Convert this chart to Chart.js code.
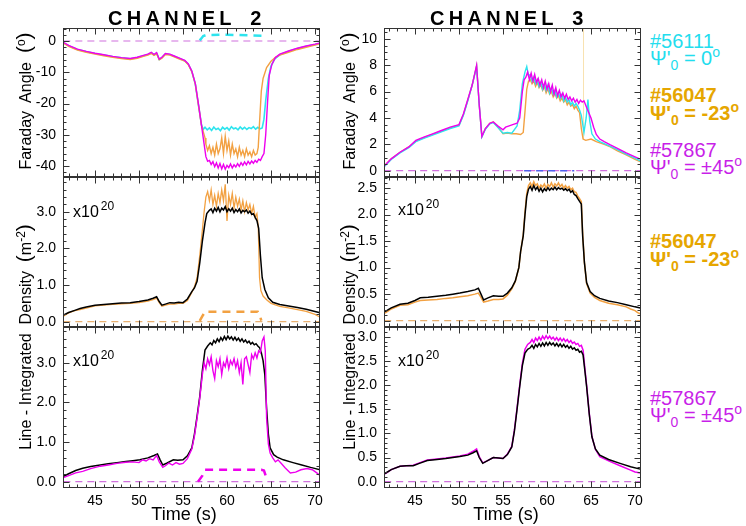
<!DOCTYPE html>
<html>
<head>
<meta charset="utf-8">
<script src="https://cdn.jsdelivr.net/npm/chart.js@4.4.1/dist/chart.umd.min.js"></script>
<style>
  body { margin: 0; background: #fff; width: 746px; height: 526px; position: relative; overflow: hidden;
         font-family: "Liberation Sans", Arial, sans-serif; }
  canvas { position: absolute; }
  .txt { position: absolute; white-space: pre; color: #000; }
  .head { font-size: 20px; line-height: 20px; font-weight: bold; letter-spacing: 4.3px; word-spacing: 5px; }
  .vert { position: absolute; white-space: pre; text-align: center; width: 260px; height: 20px;
          font-size: 16px; line-height: 20px; transform: rotate(-90deg); }
  .par { font-size: 21px; }
  .vsup { position: relative; top: -6px; font-size: 12px; }
  .lg { position: absolute; left: 650px; white-space: pre; font-size: 20px; line-height: 20px; }
  .sb { position: relative; top: 5px; font-size: 14px; }
  .sp { position: relative; top: -8px; font-size: 14px; }
  .x20 { font-size: 16px; line-height: 16px; }
  .x20 span { position: relative; top: -7px; font-size: 12px; margin-left: 2px; }
  .time { font-size: 18px; line-height: 18px; width: 120px; text-align: center; }
</style>
</head>
<body>
<canvas id="pA" width="316" height="157"></canvas>
<canvas id="pB" width="316" height="157"></canvas>
<canvas id="pC" width="316" height="158"></canvas>
<canvas id="pD" width="316" height="158"></canvas>
<canvas id="pE" width="316" height="193"></canvas>
<canvas id="pF" width="316" height="193"></canvas>

<div class="txt head" style="left:108px;top:8px">CHANNEL 2</div>
<div class="txt head" style="left:430px;top:8px">CHANNEL 3</div>

<div class="vert" style="left:-106px;top:91px">Faraday  Angle  <span class="par">(</span><span class="vsup">o</span><span class="par">)</span></div>
<div class="vert" style="left:218px;top:91px">Faraday  Angle  <span class="par">(</span><span class="vsup">o</span><span class="par">)</span></div>
<div class="vert" style="left:-106px;top:327px">Line - Integrated  Density  <span class="par">(</span>m<span class="vsup">-2</span><span class="par">)</span></div>
<div class="vert" style="left:218px;top:327px">Line - Integrated  Density  <span class="par">(</span>m<span class="vsup">-2</span><span class="par">)</span></div>

<div class="txt x20" style="left:73px;top:204px">x10<span>20</span></div>
<div class="txt x20" style="left:398px;top:202px">x10<span>20</span></div>
<div class="txt x20" style="left:73px;top:353px">x10<span>20</span></div>
<div class="txt x20" style="left:398px;top:353px">x10<span>20</span></div>

<div class="txt time" style="left:124px;top:505px">Time (s)</div>
<div class="txt time" style="left:446px;top:505px">Time (s)</div>

<div class="lg" style="top:31px;color:#22DDEE">#56111</div>
<div class="lg" style="top:48px;color:#22DDEE">Ψ'<span class="sb">0</span> = 0<span class="sp">o</span></div>
<div class="lg" style="top:85px;color:#E6A600;font-weight:bold">#56047</div>
<div class="lg" style="top:103px;color:#E6A600;font-weight:bold">Ψ'<span class="sb">0</span> = -23<span class="sp">o</span></div>
<div class="lg" style="top:140px;color:#C81FE8">#57867</div>
<div class="lg" style="top:157px;color:#C81FE8">Ψ'<span class="sb">0</span> = ±45<span class="sp">o</span></div>
<div class="lg" style="top:231px;color:#E6A600;font-weight:bold">#56047</div>
<div class="lg" style="top:249px;color:#E6A600;font-weight:bold">Ψ'<span class="sb">0</span> = -23<span class="sp">o</span></div>
<div class="lg" style="top:388px;color:#C81FE8">#57867</div>
<div class="lg" style="top:405px;color:#C81FE8">Ψ'<span class="sb">0</span> = ±45<span class="sp">o</span></div>

<script>
// ---------- tick labels ----------
const timeTicks = [45, 50, 55, 60, 65, 70];
const ch2FarTicks = [0, -10, -20, -30, -40];
const ch3FarTicks = [0, 2, 4, 6, 8, 10];
const ch2DensTicks = [0, 1, 2, 3];
const ch3DensTicks = [0, 0.5, 1, 1.5, 2, 2.5];
const ch2IntTicks = [0, 1, 2, 3];
const ch3IntTicks = [0, 0.5, 1, 1.5, 2, 2.5, 3];

// ---------- channel 2, Faraday angle (deg) ----------
const ch2FarCyanT = [41.4,42,43,44,45,46,47,48,49,49.8,50.5,51.0,51.4,51.7,52.0,52.3,52.6,53.0,53.5,54.0,54.6,55.2,55.6,56.0,56.4,56.8,57.1,57.3,
  57.5,57.75,58.0,58.25,58.5,58.75,59.0,59.25,59.5,59.75,60.0,60.25,60.5,60.75,61.0,61.25,61.5,61.75,62.0,62.25,62.5,62.75,63.0,63.25,63.5,63.75,64.0,
  64.2,64.4,64.7,65.0,65.4,66.0,67,68,69,70,70.6];
const ch2FarCyan = [-0.5,-1.5,-2.7,-3.4,-4.0,-4.5,-5.0,-5.4,-5.7,-5.3,-4.7,-4.3,-3.8,-4.4,-3.9,-5.9,-5.3,-4.1,-4.3,-4.9,-5.6,-6.3,-7.4,-9.7,-13.8,-21.3,-26.8,-28.3,
  -27.6,-28.4,-27.8,-28.6,-27.5,-28.3,-27.9,-28.7,-27.6,-28.2,-27.7,-28.5,-27.4,-28.1,-27.8,-28.4,-27.5,-28.2,-27.6,-28.3,-27.7,-28.0,-27.4,-28.2,-27.6,-28.1,-27.8,
  -25,-19,-12,-8,-5.8,-4.4,-3.3,-2.4,-1.7,-1.1,-0.7];
const ch2FarOrangeT = [41.4,42,43,44,45,46,47,48,49,49.8,50.5,51.0,51.4,51.7,52.0,52.3,52.6,53.0,53.5,54.0,54.6,55.2,55.6,56.0,56.4,56.8,57.1,57.3,57.5,57.6,
  57.8,58.0,58.2,58.4,58.6,58.8,59.0,59.2,59.4,59.6,59.8,60.0,60.2,60.4,60.6,60.8,61.0,61.2,61.4,61.6,61.8,62.0,62.2,62.4,62.6,62.8,63.0,63.2,63.4,
  63.55,63.7,63.9,64.1,64.5,65,65.5,66,67,68,69,70,70.6];
const ch2FarOrange = [-0.7,-1.7,-2.9,-3.6,-4.2,-4.7,-5.2,-5.6,-5.9,-5.5,-4.9,-4.5,-4.0,-4.6,-4.1,-6.0,-5.5,-4.3,-4.5,-5.1,-5.8,-6.4,-7.6,-9.8,-13.8,-21.4,-27.0,-29,-31,-33,
  -35,-33.5,-36,-34,-36.5,-33,-36,-34.5,-31,-36,-30.5,-35,-32,-36.5,-33,-36,-34.5,-37,-34,-36.5,-35,-37,-34.5,-36.5,-35.5,-37,-35,-36.5,-36,
  -34,-26,-16,-12,-8.5,-6.5,-5.2,-4.5,-3.6,-2.7,-2.0,-1.3,-0.9];
const ch2FarMagT = [41.4,42,43,44,45,46,47,48,49,49.8,50.5,51.0,51.4,51.7,52.0,52.3,52.6,53.0,53.5,54.0,54.6,55.2,55.6,56.0,56.4,56.8,57.1,57.4,57.6,57.8,
  58.0,58.2,58.4,58.6,58.8,59.0,59.2,59.4,59.6,59.8,60.0,60.2,60.4,60.6,60.8,61.0,61.2,61.4,61.6,61.8,62.0,62.2,62.4,62.6,62.8,63.0,63.2,63.4,63.6,63.8,
  64.0,64.2,64.4,64.6,64.8,65.1,65.5,66.0,67,68,69,70,70.6];
const ch2FarMag = [-0.4,-1.4,-2.6,-3.3,-3.9,-4.4,-4.9,-5.3,-5.6,-5.2,-4.6,-4.2,-3.6,-4.3,-3.7,-5.8,-5.2,-4.0,-4.2,-4.8,-5.5,-6.2,-7.3,-9.6,-13.6,-21.0,-27.0,-33,-37,-38.5,
  -38.2,-39.5,-38.6,-40.2,-39.0,-40.6,-39.2,-40.9,-39.5,-41.0,-39.8,-40.5,-39.3,-40.6,-39.6,-40.3,-39.2,-40.1,-38.9,-39.8,-38.7,-39.6,-38.5,-39.3,-38.4,-39.1,-38.2,-38.8,-37.8,-38.2,
  -37,-36,-30,-20,-11,-7.5,-5.3,-4.2,-3.2,-2.3,-1.6,-1.0,-0.6];
const ch2FarCyanRefT = [56.9,57.1,57.3,57.6,60.0,64.0,64.3];
const ch2FarCyanRef = [0.2,0.9,1.6,1.9,2.0,1.7,1.4];
const ch2FarZeroT = [41.4,70.6];
const ch2FarZero = [0,0];

// ---------- channel 3, Faraday angle (deg) ----------
const ch3FarMagT = [41.5,42.3,43.3,44.3,45.1,46.0,47,48,49,50.0,50.5,51.0,51.5,52.0,52.3,52.6,53.0,53.5,53.9,54.4,55.0,55.3,55.7,56.1,56.6,56.9,57.2,57.4,
  57.6,57.8,58.0,58.2,58.4,58.6,58.8,59.0,59.2,59.4,59.6,59.8,60.0,60.2,60.4,60.6,60.8,61.0,61.2,61.4,61.6,61.8,62.0,62.2,62.4,62.6,62.8,63.0,63.2,63.4,63.6,63.8,64.0,
  64.2,64.5,65.0,65.3,65.6,66.0,66.5,67.2,68,69,70,70.7];
const ch3FarMag = [0.35,0.9,1.4,1.8,2.3,2.55,2.8,3.05,3.3,3.5,4.3,5.4,6.5,8.0,5.0,2.6,3.2,3.6,3.7,3.4,3.1,3.3,3.4,3.5,3.6,4.0,6.0,6.9,
  7.1,7.5,6.9,7.4,6.8,7.3,6.7,7.0,6.5,6.9,6.3,6.8,6.2,6.6,6.0,6.5,5.8,6.3,5.7,6.1,5.6,5.9,5.5,5.8,5.4,5.6,5.3,5.5,5.2,5.4,5.1,5.35,5.2,
  5.3,4.8,4.0,3.3,2.75,2.4,2.2,1.95,1.7,1.35,1.05,0.85];
const ch3FarCyanT = [41.5,42.3,43.3,44.3,45.1,46.0,47,48,49,50.0,50.5,51.0,51.5,52.0,52.3,52.6,53.0,53.5,53.9,54.4,55.0,55.5,56.0,56.6,56.9,57.2,57.5,57.7,57.9,
  58.1,58.3,58.5,58.7,58.9,59.1,59.3,59.5,59.7,59.9,60.1,60.3,60.5,60.7,60.9,61.1,61.3,61.5,61.7,61.9,62.1,62.3,62.5,62.7,62.9,63.1,63.3,63.5,
  63.7,63.9,64.2,64.45,64.65,64.85,65.1,65.5,66.0,66.5,67.2,68,69,70,70.7];
const ch3FarCyan = [0.3,0.85,1.35,1.75,2.2,2.45,2.7,2.95,3.2,3.4,4.2,5.3,6.5,7.9,5.0,2.55,3.15,3.55,3.65,3.3,2.85,2.9,2.85,3.4,4.6,6.6,7.5,7.9,7.2,
  7.3,6.8,7.1,6.6,6.9,6.4,6.7,6.2,6.6,6.1,6.5,5.9,6.3,5.8,6.1,5.6,5.9,5.5,5.8,5.3,5.6,5.2,5.4,5.0,5.2,4.9,5.1,4.9,
  4.6,4.2,2.9,4.0,5.4,3.8,2.8,2.4,2.2,2.05,1.85,1.6,1.25,0.95,0.7];
const ch3FarOrangeT = [41.5,42.3,43.3,44.3,45.1,46.0,47,48,49,50.0,50.5,51.0,51.5,52.0,52.3,52.6,53.0,53.5,53.9,54.4,55.0,55.5,56.0,56.5,57.0,57.3,57.5,57.7,57.9,
  58.1,58.3,58.5,58.7,58.9,59.1,59.3,59.5,59.7,59.9,60.1,60.3,60.5,60.7,60.9,61.1,61.3,61.5,61.7,61.9,62.1,62.3,62.5,62.7,62.9,63.1,63.3,63.5,
  63.7,63.9,64.1,64.4,65.0,65.6,66.5,67.2,68,69,70,70.7];
const ch3FarOrange = [0.35,0.9,1.4,1.8,2.25,2.5,2.75,3.0,3.25,3.45,4.25,5.35,6.5,7.95,5.0,2.6,3.2,3.6,3.7,3.35,2.8,2.85,2.8,2.8,2.75,2.9,4.5,6.2,6.8,
  6.9,6.6,6.8,6.4,6.7,6.3,6.5,6.1,6.4,5.9,6.2,5.8,6.0,5.6,5.9,5.5,5.7,5.3,5.5,5.2,5.4,5.0,5.2,4.9,5.0,4.7,4.9,4.6,
  4.4,3.2,2.4,2.3,2.4,2.2,2.0,1.8,1.5,1.2,0.85,0.65];
const ch3FarGlitchT = [64.15,64.15];
const ch3FarGlitch = [2.4,11];
const ch3FarBlueRefT = [57.4,63.1];
const ch3FarBlueRef = [0,0];
const ch3FarZeroT = [41.5,70.7];
const ch3FarZero = [0,0];

// ---------- channel 2, density (1e20 m^-2) ----------
const ch2DensBlackT = [41.4,42.0,42.7,43.3,44.0,45.0,46.0,47,48,49,50,51,51.6,52.0,52.3,52.6,53.0,53.5,54.0,54.5,55.0,55.5,56.0,56.3,56.6,56.9,57.2,57.5,57.7,58.0,
  58.2,58.4,58.6,58.8,59.0,59.2,59.4,59.6,59.8,60.0,60.2,60.4,60.6,60.8,61.0,61.2,61.4,61.6,61.8,62.0,62.2,62.4,62.6,62.8,63.0,63.2,63.4,
  63.6,63.8,64.0,64.3,64.7,65.2,66,67,68,69,70,70.6];
const ch2DensBlack = [0.18,0.25,0.31,0.36,0.40,0.45,0.47,0.49,0.51,0.52,0.55,0.59,0.64,0.68,0.55,0.45,0.48,0.52,0.51,0.53,0.52,0.62,0.82,0.92,1.1,1.6,2.2,2.7,2.95,3.04,
  3.08,2.98,3.1,3.02,3.12,3.0,3.1,3.05,3.14,3.0,3.08,3.02,3.1,2.98,3.06,3.0,3.08,2.97,3.04,3.0,3.05,2.96,3.02,2.93,2.95,2.85,2.76,
  2.55,1.8,1.2,0.88,0.65,0.53,0.47,0.43,0.39,0.34,0.28,0.24];
const ch2DensOrangeT = [41.4,42.0,42.7,43.3,44.0,45.0,46.0,47,48,49,50,51,51.6,52.0,52.3,52.6,53.0,53.5,54.0,54.5,55.0,55.5,56.0,56.3,56.6,56.9,57.2,
  57.4,57.6,57.8,58.0,58.2,58.4,58.6,58.8,59.0,59.2,59.4,59.6,59.8,60.0,60.2,60.4,60.6,60.8,61.0,61.2,61.4,61.6,61.8,62.0,62.2,62.4,62.6,62.8,63.0,63.2,63.4,
  63.55,63.7,63.85,64.1,64.5,65,66,67,68,69,70,70.6];
const ch2DensOrange = [0.15,0.24,0.3,0.33,0.37,0.43,0.45,0.47,0.49,0.5,0.52,0.56,0.6,0.64,0.52,0.42,0.45,0.48,0.48,0.5,0.5,0.58,0.8,0.95,1.2,1.8,2.5,
  3.0,3.4,3.55,3.3,3.6,3.2,3.45,3.15,3.5,3.25,3.6,3.3,3.75,2.75,3.45,3.2,3.5,3.1,3.4,3.15,3.35,3.05,3.3,3.0,3.25,3.05,3.2,2.95,3.15,2.85,2.95,
  2.6,1.2,0.85,0.7,0.6,0.5,0.42,0.38,0.33,0.28,0.2,0.12];
const ch2DensRefT = [56.9,57.2,57.5,63.5,63.7,63.9];
const ch2DensRef = [0.02,0.15,0.27,0.27,0.2,0.03];
const ch2DensZeroT = [41.4,70.6];
const ch2DensZero = [0,0];

// ---------- channel 3, density (1e20 m^-2) ----------
const ch3DensT = [41.6,42.3,43.3,44.2,45.0,45.6,46.5,47.5,48.5,49.3,50.1,51.0,51.8,52.2,52.5,52.8,53.3,53.9,54.5,55.0,55.5,56.0,56.4,56.8,57.0,57.3,57.5,57.7,57.9,
  58.1,58.3,58.5,58.7,58.9,59.1,59.3,59.5,59.7,59.9,60.1,60.3,60.5,60.7,60.9,61.1,61.3,61.5,61.7,61.9,62.1,62.3,62.5,62.7,62.9,63.1,63.3,63.5,63.7,
  63.9,64.05,64.25,64.5,64.9,65.4,66,67,68,69,70,70.6];
const ch3DensBlack = [0.17,0.24,0.31,0.33,0.38,0.43,0.44,0.46,0.48,0.50,0.52,0.55,0.58,0.61,0.50,0.39,0.43,0.47,0.46,0.46,0.52,0.62,0.75,1.0,1.3,1.6,2.0,2.34,2.48,
  2.53,2.46,2.55,2.47,2.52,2.44,2.5,2.43,2.49,2.45,2.51,2.46,2.5,2.47,2.52,2.47,2.51,2.48,2.5,2.46,2.49,2.45,2.48,2.42,2.45,2.38,2.36,2.3,2.25,
  2.2,1.6,1.1,0.72,0.55,0.47,0.42,0.37,0.34,0.3,0.26,0.24];
const ch3DensOrangeT = [41.6,42.3,43.3,44.2,45.0,45.6,46.5,47.5,48.5,49.3,50.1,51.0,51.8,52.2,52.5,52.8,53.3,53.9,54.5,55.0,55.5,56.0,56.4,56.8,57.0,57.3,57.5,57.7,57.9,
  58.1,58.3,58.5,58.7,58.9,59.1,59.3,59.5,59.7,59.9,60.1,60.3,60.5,60.7,60.9,61.1,61.3,61.5,61.7,61.9,62.1,62.3,62.5,62.7,62.9,63.1,63.3,63.5,63.7,
  63.9,64.05,64.25,64.5,64.9,65.4,66,67,68,69,69.5,70,70.3,70.6];
const ch3DensOrange = [0.14,0.22,0.29,0.30,0.35,0.38,0.39,0.40,0.42,0.43,0.45,0.47,0.50,0.52,0.44,0.35,0.37,0.40,0.40,0.41,0.48,0.6,0.74,1.0,1.3,1.62,2.05,2.4,2.55,
  2.6,2.53,2.62,2.55,2.58,2.5,2.56,2.52,2.58,2.5,2.57,2.53,2.6,2.52,2.58,2.54,2.6,2.53,2.57,2.5,2.55,2.5,2.53,2.47,2.5,2.43,2.42,2.35,2.3,
  2.25,1.65,1.1,0.7,0.52,0.44,0.38,0.33,0.3,0.26,0.22,0.19,0.15,0.13];
const ch3DensZeroT = [41.5,70.7];
const ch3DensZero = [0,0];

// ---------- channel 2, line-integrated density (1e20 m^-2) ----------
const ch2IntBlackT = [41.4,42.0,42.8,43.6,44.5,45.6,46.5,47.5,48.5,49.3,50.1,51.0,51.7,52.1,52.4,52.7,53.2,53.9,54.4,55.0,55.5,56.0,56.3,56.6,56.9,57.2,57.5,57.8,58.1,
  58.3,58.5,58.7,58.9,59.1,59.3,59.5,59.7,59.9,60.1,60.3,60.5,60.7,60.9,61.1,61.3,61.5,61.7,61.9,62.1,62.3,62.5,62.7,62.9,63.1,63.3,63.5,63.7,
  63.9,64.1,64.3,64.5,64.7,64.9,65.3,65.7,66.4,67.5,68.5,69.5,70.6];
const ch2IntBlack = [0.13,0.2,0.28,0.34,0.38,0.42,0.45,0.48,0.51,0.53,0.55,0.6,0.66,0.7,0.55,0.42,0.47,0.55,0.54,0.55,0.65,0.85,1.2,1.65,2.14,2.8,3.32,3.42,3.5,
  3.45,3.56,3.5,3.6,3.53,3.63,3.56,3.66,3.58,3.67,3.6,3.65,3.57,3.64,3.56,3.62,3.54,3.6,3.52,3.57,3.5,3.54,3.47,3.51,3.45,3.48,3.42,3.38,
  3.25,3.05,2.7,1.85,1.2,0.85,0.68,0.62,0.55,0.48,0.42,0.36,0.3];
const ch2IntMagT = [41.4,42.0,42.8,43.6,44.5,45.6,46.5,47.5,48.5,49.3,50.0,50.4,50.8,51.2,51.6,52.0,52.3,52.7,53.0,53.4,53.8,54.2,54.6,55.0,55.5,56.0,56.3,56.6,56.9,57.2,57.4,
  57.6,57.8,58.0,58.2,58.4,58.6,58.8,59.0,59.2,59.4,59.6,59.8,60.0,60.2,60.4,60.6,60.8,61.0,61.2,61.4,61.6,61.8,62.0,62.2,62.4,62.6,62.8,63.0,63.2,63.4,63.6,63.8,64.0,
  64.2,64.35,64.5,64.7,64.9,65.2,65.5,65.8,66.2,66.6,67.2,67.8,68.4,69.1,69.7,70.2,70.6];
const ch2IntMag = [0.1,0.15,0.22,0.26,0.33,0.39,0.42,0.46,0.49,0.5,0.48,0.55,0.52,0.58,0.55,0.66,0.5,0.36,0.4,0.47,0.42,0.48,0.44,0.46,0.58,0.82,1.15,1.6,2.1,2.7,3.0,
  2.85,3.1,2.95,3.15,2.8,2.6,3.05,2.9,3.1,2.7,3.0,2.9,3.12,2.85,3.05,2.95,3.1,2.88,3.05,2.75,3.0,2.45,3.1,3.15,2.95,2.75,3.2,3.1,3.25,3.12,3.3,3.25,3.55,
  3.65,3.3,1.6,0.95,0.72,0.6,0.5,0.55,0.45,0.35,0.22,0.24,0.3,0.33,0.3,0.22,0.15];
const ch2IntRefT = [56.7,57.2,57.5,63.9,64.2,64.6];
const ch2IntRef = [0.0,0.15,0.3,0.3,0.28,0.02];
const ch2IntZeroT = [41.4,70.6];
const ch2IntZero = [0,0];

// ---------- channel 3, line-integrated density (1e20 m^-2) ----------
const ch3IntBlackT = [41.6,42.3,43.3,44.0,44.8,45.5,46.4,47.5,48.5,49.3,50.1,51.0,51.6,52.0,52.3,52.7,53.2,53.9,54.5,55.0,55.5,56.0,56.3,56.6,56.9,57.2,57.5,57.8,58.1,
  58.3,58.5,58.7,58.9,59.1,59.3,59.5,59.7,59.9,60.1,60.3,60.5,60.7,60.9,61.1,61.3,61.5,61.7,61.9,62.1,62.3,62.5,62.7,62.9,63.1,63.3,63.5,63.7,63.9,
  64.1,64.3,64.5,64.8,65.1,65.5,66.0,67,68.3,69.5,70.6];
const ch3IntBlack = [0.17,0.25,0.32,0.33,0.33,0.38,0.44,0.46,0.48,0.5,0.52,0.55,0.6,0.64,0.5,0.38,0.43,0.5,0.49,0.48,0.56,0.72,1.05,1.5,1.97,2.4,2.66,2.74,2.77,
  2.82,2.76,2.84,2.79,2.86,2.8,2.87,2.81,2.88,2.82,2.88,2.83,2.87,2.81,2.86,2.8,2.85,2.79,2.84,2.78,2.82,2.76,2.8,2.74,2.77,2.72,2.74,2.68,2.7,
  2.62,2.3,1.97,1.4,0.93,0.68,0.55,0.46,0.38,0.31,0.26];
const ch3IntMagT = [41.6,42.3,43.3,44.0,44.8,45.5,46.4,47.5,48.5,49.3,50.1,51.0,51.6,52.0,52.3,52.7,53.2,53.9,54.5,55.0,55.5,56.0,56.3,56.6,56.9,57.2,57.5,57.8,58.1,
  58.3,58.5,58.7,58.9,59.1,59.3,59.5,59.7,59.9,60.1,60.3,60.5,60.7,60.9,61.1,61.3,61.5,61.7,61.9,62.1,62.3,62.5,62.7,62.9,63.1,63.3,63.5,63.7,63.9,
  64.1,64.3,64.5,64.8,65.1,65.5,66.0,67,68.3,69.5,70.0,70.6];
const ch3IntMag = [0.16,0.25,0.32,0.33,0.34,0.39,0.45,0.47,0.49,0.51,0.53,0.57,0.63,0.68,0.52,0.39,0.43,0.5,0.49,0.48,0.57,0.73,1.07,1.53,2.0,2.45,2.74,2.84,2.88,
  2.94,2.88,2.97,2.92,2.99,2.93,3.01,2.95,3.02,2.96,3.01,2.95,2.99,2.93,2.98,2.92,2.97,2.91,2.96,2.9,2.94,2.88,2.92,2.86,2.89,2.84,2.86,2.8,2.82,
  2.72,2.35,2.0,1.42,0.94,0.67,0.52,0.43,0.33,0.24,0.2,0.18];
const ch3IntZeroT = [41.5,70.7];
const ch3IntZero = [0,0];

// ---------- colours ----------
const CYAN = '#2EE4EE', ORANGE = '#F2A142', MAGENTA = '#EE00EE', BLACK = '#000000';
const ZERO_MAG = '#D070DD', ZERO_OR = '#E8B070', BLUE = '#5060EE';

Chart.defaults.font.family = '"Liberation Sans", Arial, sans-serif';
Chart.defaults.font.size = 14;
Chart.defaults.color = '#000';

const PAD = 4, YW = 55, XH = 28;

// frame round the plot area plus inward major/minor ticks on all four sides
const frameTicks = {
  id: 'frameTicks',
  afterDatasetsDraw(chart, args, o) {
    const { ctx, chartArea: a, scales } = chart;
    const xs = scales.x, ys = scales.y;
    const L = Math.round(a.left) + 0.5, R = Math.round(a.right) - 0.5;
    const T = Math.round(a.top) + 0.5, B = Math.round(a.bottom) - 0.5;
    const steps = (min, max, step) => {
      const out = [];
      for (let k = Math.ceil(min / step - 1e-6); k * step <= max + 1e-9; k++) out.push(k * step);
      return out;
    };
    const xMark = (v, len) => {
      const p = Math.round(xs.getPixelForValue(v)) + 0.5;
      ctx.moveTo(p, B); ctx.lineTo(p, B - len);
      ctx.moveTo(p, T); ctx.lineTo(p, T + len);
    };
    const yMark = (v, len) => {
      const p = Math.round(ys.getPixelForValue(v)) + 0.5;
      ctx.moveTo(L, p); ctx.lineTo(L + len, p);
      ctx.moveTo(R, p); ctx.lineTo(R - len, p);
    };
    ctx.save();
    ctx.strokeStyle = '#333';
    ctx.lineWidth = 1;
    ctx.beginPath();
    steps(xs.min, xs.max, 1).forEach(v => xMark(v, 3));
    timeTicks.forEach(v => xMark(v, 6));
    steps(ys.min, ys.max, o.yMinor).forEach(v => yMark(v, 3));
    o.yMajor.forEach(v => yMark(v, 6));
    ctx.stroke();
    ctx.strokeRect(L, T, R - L, B - T);
    ctx.restore();
  }
};

function line(t, v, color, width, dash) {
  return {
    data: t.map((x, i) => ({ x: x, y: v[i] })),
    borderColor: color,
    borderWidth: width || 1.3,
    borderDash: dash || [],
    pointRadius: 0,
    tension: 0,
    fill: false
  };
}

function panel(id, box, cfg) {
  const cv = document.getElementById(id);
  cv.style.left = (box.x - YW) + 'px';
  cv.style.top = (box.y - PAD) + 'px';
  new Chart(cv, {
    type: 'line',
    data: { datasets: cfg.datasets },
    options: {
      responsive: false,
      animation: false,
      events: [],
      layout: { padding: { top: PAD, right: PAD, bottom: cfg.showX ? 0 : PAD, left: 0 } },
      scales: {
        x: {
          type: 'linear', min: cfg.xMin, max: cfg.xMax, display: !!cfg.showX,
          grid: { display: false, drawTicks: false }, border: { display: false },
          ticks: { padding: 5, autoSkip: false, maxRotation: 0, callback: v => String(v) },
          afterBuildTicks: sc => { sc.ticks = timeTicks.map(v => ({ value: v })); },
          afterFit: sc => {
            sc.height = cfg.showX ? XH : 0;
            sc.paddingLeft = 0; sc.paddingRight = 0;
          }
        },
        y: {
          type: 'linear', min: cfg.yMin, max: cfg.yMax,
          grid: { display: false, drawTicks: false }, border: { display: false },
          ticks: { padding: 7, autoSkip: false, callback: v => v.toFixed(cfg.dec) },
          afterBuildTicks: sc => { sc.ticks = cfg.yTicks.map(v => ({ value: v })); },
          afterFit: sc => { sc.width = YW; sc.paddingTop = 0; sc.paddingBottom = 0; }
        }
      },
      plugins: {
        legend: { display: false },
        tooltip: { enabled: false },
        frameTicks: { yMajor: cfg.yTicks, yMinor: cfg.yMinor }
      }
    },
    plugins: [frameTicks]
  });
}

const DASH = [7, 5], THICK = [8, 6];

panel('pA', { x: 63, y: 28 }, {
  xMin: 41.36, xMax: 70.57, yMin: -43.5, yMax: 4.16, yTicks: ch2FarTicks, yMinor: 2, dec: 0,
  datasets: [
    line(ch2FarMagT, ch2FarMag, MAGENTA, 1.4),
    line(ch2FarOrangeT, ch2FarOrange, ORANGE, 1.4),
    line(ch2FarCyanT, ch2FarCyan, CYAN, 1.6),
    line(ch2FarCyanRefT, ch2FarCyanRef, CYAN, 2.5, THICK),
    line(ch2FarZeroT, ch2FarZero, ZERO_MAG, 1.2, DASH)
  ]
});

panel('pB', { x: 384, y: 28 }, {
  xMin: 41.48, xMax: 70.68, yMin: -0.48, yMax: 10.83, yTicks: ch3FarTicks, yMinor: 0.5, dec: 0,
  datasets: [
    line(ch3FarMagT, ch3FarMag, MAGENTA, 1.4),
    line(ch3FarCyanT, ch3FarCyan, CYAN, 1.4),
    line(ch3FarOrangeT, ch3FarOrange, ORANGE, 1.4),
    line(ch3FarGlitchT, ch3FarGlitch, '#F8E2B0', 1),
    line(ch3FarBlueRefT, ch3FarBlueRef, BLUE, 1.4, DASH),
    line(ch3FarZeroT, ch3FarZero, ZERO_MAG, 1.2, DASH)
  ]
});

panel('pC', { x: 63, y: 177 }, {
  xMin: 41.36, xMax: 70.57, yMin: -0.145, yMax: 3.95, yTicks: ch2DensTicks, yMinor: 0.2, dec: 1,
  datasets: [
    line(ch2DensBlackT, ch2DensBlack, BLACK, 1.5),
    line(ch2DensOrangeT, ch2DensOrange, ORANGE, 1.3),
    line(ch2DensRefT, ch2DensRef, ORANGE, 2.5, THICK),
    line(ch2DensZeroT, ch2DensZero, ZERO_OR, 1.2, DASH)
  ]
});

panel('pD', { x: 384, y: 177 }, {
  xMin: 41.48, xMax: 70.68, yMin: -0.12, yMax: 2.71, yTicks: ch3DensTicks, yMinor: 0.1, dec: 1,
  datasets: [
    line(ch3DensT, ch3DensBlack, BLACK, 1.5),
    line(ch3DensOrangeT, ch3DensOrange, ORANGE, 1.5),
    line(ch3DensZeroT, ch3DensZero, ZERO_OR, 1.2, DASH)
  ]
});

panel('pE', { x: 63, y: 327 }, {
  xMin: 41.36, xMax: 70.57, yMin: -0.16, yMax: 3.9, yTicks: ch2IntTicks, yMinor: 0.2, dec: 1, showX: true,
  datasets: [
    line(ch2IntMagT, ch2IntMag, MAGENTA, 1.4),
    line(ch2IntBlackT, ch2IntBlack, BLACK, 1.5),
    line(ch2IntRefT, ch2IntRef, MAGENTA, 2.5, THICK),
    line(ch2IntZeroT, ch2IntZero, ZERO_MAG, 1.2, DASH)
  ]
});

panel('pF', { x: 384, y: 327 }, {
  xMin: 41.48, xMax: 70.68, yMin: -0.13, yMax: 3.2, yTicks: ch3IntTicks, yMinor: 0.1, dec: 1, showX: true,
  datasets: [
    line(ch3IntBlackT, ch3IntBlack, BLACK, 1.5),
    line(ch3IntMagT, ch3IntMag, MAGENTA, 1.5),
    line(ch3IntZeroT, ch3IntZero, ZERO_MAG, 1.2, DASH)
  ]
});
</script>
</body>
</html>
